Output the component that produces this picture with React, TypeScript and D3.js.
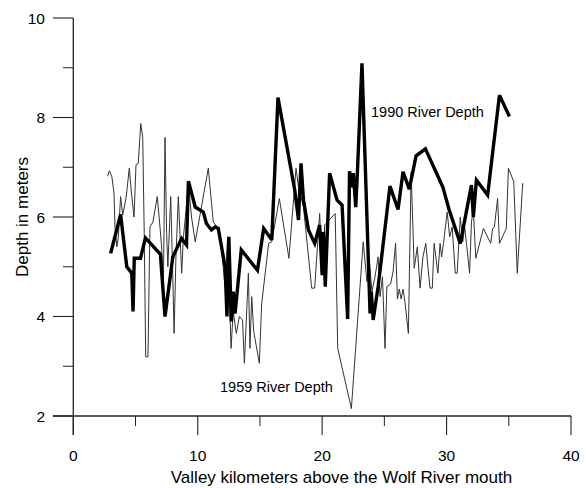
import React from "react";
import * as d3 from "d3";

const depth1990X = [3.0, 3.8, 4.3, 4.7, 4.8, 4.9, 5.4, 5.8, 7.0, 7.37, 8.0, 8.7, 9.1, 9.25, 9.8, 10.45, 10.7, 11.1, 11.4, 11.65, 12.2, 12.35, 12.5, 12.7, 12.85, 13.0, 13.5, 14.8, 15.3, 15.95, 16.45, 17.8, 18.1, 18.3, 18.5, 18.9, 19.4, 19.8, 20.0, 20.1, 20.25, 20.6, 21.2, 21.6, 22.05, 22.2, 22.4, 22.5, 22.7, 22.85, 23.2, 23.85, 23.95, 24.1, 24.5, 25.45, 26.1, 26.5, 27.0, 27.55, 28.3, 29.7, 30.2, 31.1, 32.0, 32.15, 32.4, 33.3, 34.25, 35.05];
const depth1990Y = [5.27, 6.05, 5.0, 4.87, 4.1, 5.17, 5.17, 5.58, 5.25, 4.0, 5.2, 5.57, 5.44, 6.72, 6.2, 6.1, 5.87, 5.74, 5.8, 5.77, 5.0, 4.0, 5.6, 3.9, 4.5, 4.06, 5.34, 4.93, 5.77, 5.54, 8.4, 6.54, 5.94, 7.08, 6.34, 5.74, 5.47, 5.84, 4.83, 5.7, 4.6, 6.88, 6.34, 6.24, 3.95, 6.92, 6.6, 6.88, 6.2, 7.0, 9.09, 4.06, 4.5, 3.93, 4.6, 6.62, 6.15, 6.91, 6.56, 7.23, 7.37, 6.6, 6.15, 5.47, 6.64, 6.0, 6.74, 6.44, 8.45, 8.02];

const depth1959X = [2.75, 2.9, 3.1, 3.27, 3.35, 3.5, 3.62, 3.8, 3.97, 4.24, 4.5, 4.69, 4.88, 5.04, 5.22, 5.42, 5.58, 5.7, 5.82, 6.0, 6.16, 6.4, 6.75, 6.9, 7.1, 7.24, 7.37, 7.5, 7.6, 7.83, 7.99, 8.1, 8.25, 8.44, 8.71, 8.85, 9.05, 9.24, 9.5, 9.8, 10.85, 11.25, 11.75, 12.2, 12.4, 12.68, 12.85, 13.1, 13.35, 13.6, 13.75, 14.07, 14.2, 14.34, 14.5, 14.95, 15.14, 15.7, 15.95, 16.56, 17.33, 17.9, 18.1, 18.5, 19.16, 19.4, 19.8, 19.95, 20.1, 20.2, 21.05, 21.25, 22.35, 23.3, 23.6, 23.8, 24.0, 24.25, 24.5, 24.65, 24.85, 25.05, 25.2, 25.5, 25.7, 25.9, 26.05, 26.2, 26.35, 26.5, 26.65, 26.93, 27.15, 27.4, 27.65, 27.87, 28.1, 28.33, 28.5, 28.67, 28.85, 29.0, 29.3, 29.48, 29.6, 29.75, 30.05, 30.25, 30.45, 30.7, 30.85, 31.1, 31.3, 31.45, 31.6, 31.85, 32.0, 32.15, 32.35, 32.96, 33.55, 33.7, 33.84, 34.1, 34.25, 34.8, 34.97, 35.4, 35.68, 36.12];
const depth1959Y = [6.82, 6.93, 6.81, 6.48, 5.8, 5.4, 5.6, 6.41, 6.04, 6.38, 6.98, 6.44, 6.0, 7.05, 7.08, 7.88, 7.6, 5.67, 3.19, 3.19, 5.8, 5.9, 6.41, 6.0, 5.4, 4.6, 7.6, 5.67, 5.0, 6.41, 4.87, 3.66, 5.2, 6.41, 4.87, 5.6, 6.1, 6.71, 6.0, 5.5, 6.98, 5.9, 5.74, 4.6, 5.6, 3.36, 4.1, 3.66, 4.0, 3.93, 3.06, 4.87, 3.36, 4.4, 3.7, 3.06, 4.26, 5.47, 5.5, 6.37, 5.17, 6.98, 6.6, 6.2, 4.57, 4.57, 6.07, 5.2, 4.83, 5.84, 6.07, 3.36, 2.15, 5.5, 4.7, 5.1, 4.5, 4.8, 5.2, 4.4, 4.8, 3.36, 4.6, 4.65, 4.9, 5.47, 4.35, 4.55, 4.35, 4.55, 4.3, 3.66, 6.9, 4.97, 5.4, 4.57, 5.2, 5.47, 5.0, 4.57, 4.57, 5.47, 4.87, 5.47, 5.2, 5.47, 6.1, 5.6, 5.8, 4.87, 4.87, 6.0, 5.5, 5.8, 5.47, 4.87, 5.9, 6.14, 5.17, 5.77, 5.47, 5.77, 5.8, 6.37, 5.47, 5.77, 6.98, 6.71, 4.87, 6.68];

const xMajorTicks = [0, 10, 20, 30, 40];
const xMinorTicks = [5, 15, 25, 35];
const yMajorTicks = [2, 4, 6, 8, 10];
const yMinorTicks = [3, 5, 7, 9];

const xTitle = "Valley kilometers above the Wolf River mouth";
const yTitle = "Depth in meters";
const label1990 = "1990 River Depth";
const label1959 = "1959 River Depth";

export default function App() {
  const W = 586, H = 488;
  const x = d3.scaleLinear().domain([0, 40]).range([73.3, 571]);
  const y = d3.scaleLinear().domain([2, 10]).range([416, 18]);
  const font = "'Liberation Sans', Arial, sans-serif";

  const line = d3.line<[number, number]>().x(d => x(d[0])).y(d => y(d[1]));
  const d1990 = depth1990X.map((v, i) => [v, depth1990Y[i]] as [number, number]);
  const d1959 = depth1959X.map((v, i) => [v, depth1959Y[i]] as [number, number]);

  const x0 = x(0), yBase = y(2);

  return (
    <div style={{ position: "absolute", left: 0, top: 0 }}>
      <svg width={W} height={H} style={{ display: "block", background: "#fff" }}>
        <path d={line(d1959) || ""} fill="none" stroke="#333" strokeWidth={1} strokeLinejoin="miter" />
        <path d={line(d1990) || ""} fill="none" stroke="#000" strokeWidth={3.4} strokeLinejoin="miter" strokeMiterlimit={3} />

        {/* axes */}
        <line x1={x0} x2={x0} y1={y(10)} y2={435} stroke="#222" strokeWidth={1.3} />
        <line x1={53} x2={x(40)} y1={yBase} y2={yBase} stroke="#222" strokeWidth={1.3} />
        {yMajorTicks.map(t => (
          <line key={"ym" + t} x1={53} x2={x0} y1={y(t)} y2={y(t)} stroke="#222" strokeWidth={1.1} />
        ))}
        {yMinorTicks.map(t => (
          <line key={"yn" + t} x1={63} x2={x0} y1={y(t)} y2={y(t)} stroke="#222" strokeWidth={1} />
        ))}
        {xMajorTicks.map(t => (
          <line key={"xm" + t} x1={x(t)} x2={x(t)} y1={yBase} y2={435} stroke="#222" strokeWidth={1.1} />
        ))}
        {xMinorTicks.map(t => (
          <line key={"xn" + t} x1={x(t)} x2={x(t)} y1={yBase} y2={426} stroke="#222" strokeWidth={1} />
        ))}

        {yMajorTicks.map(t => (
          <text key={"yl" + t} x={45} y={y(t) + 5.5} textAnchor="end" fontFamily={font} fontSize={15.5} fill="#000">{t}</text>
        ))}
        {xMajorTicks.map(t => (
          <text key={"xl" + t} x={x(t)} y={461} textAnchor="middle" fontFamily={font} fontSize={15.5} fill="#000">{t}</text>
        ))}

        <text x={341.5} y={483} textAnchor="middle" fontFamily={font} fontSize={17} fill="#000">{xTitle}</text>
        <text transform={`translate(28, ${y(6)}) rotate(-90)`} textAnchor="middle" fontFamily={font} fontSize={17} fill="#000">{yTitle}</text>

        <text x={371} y={117} fontFamily={font} fontSize={14.5} fill="#000">{label1990}</text>
        <text x={220} y={392} fontFamily={font} fontSize={14.5} fill="#000">{label1959}</text>
      </svg>
    </div>
  );
}
